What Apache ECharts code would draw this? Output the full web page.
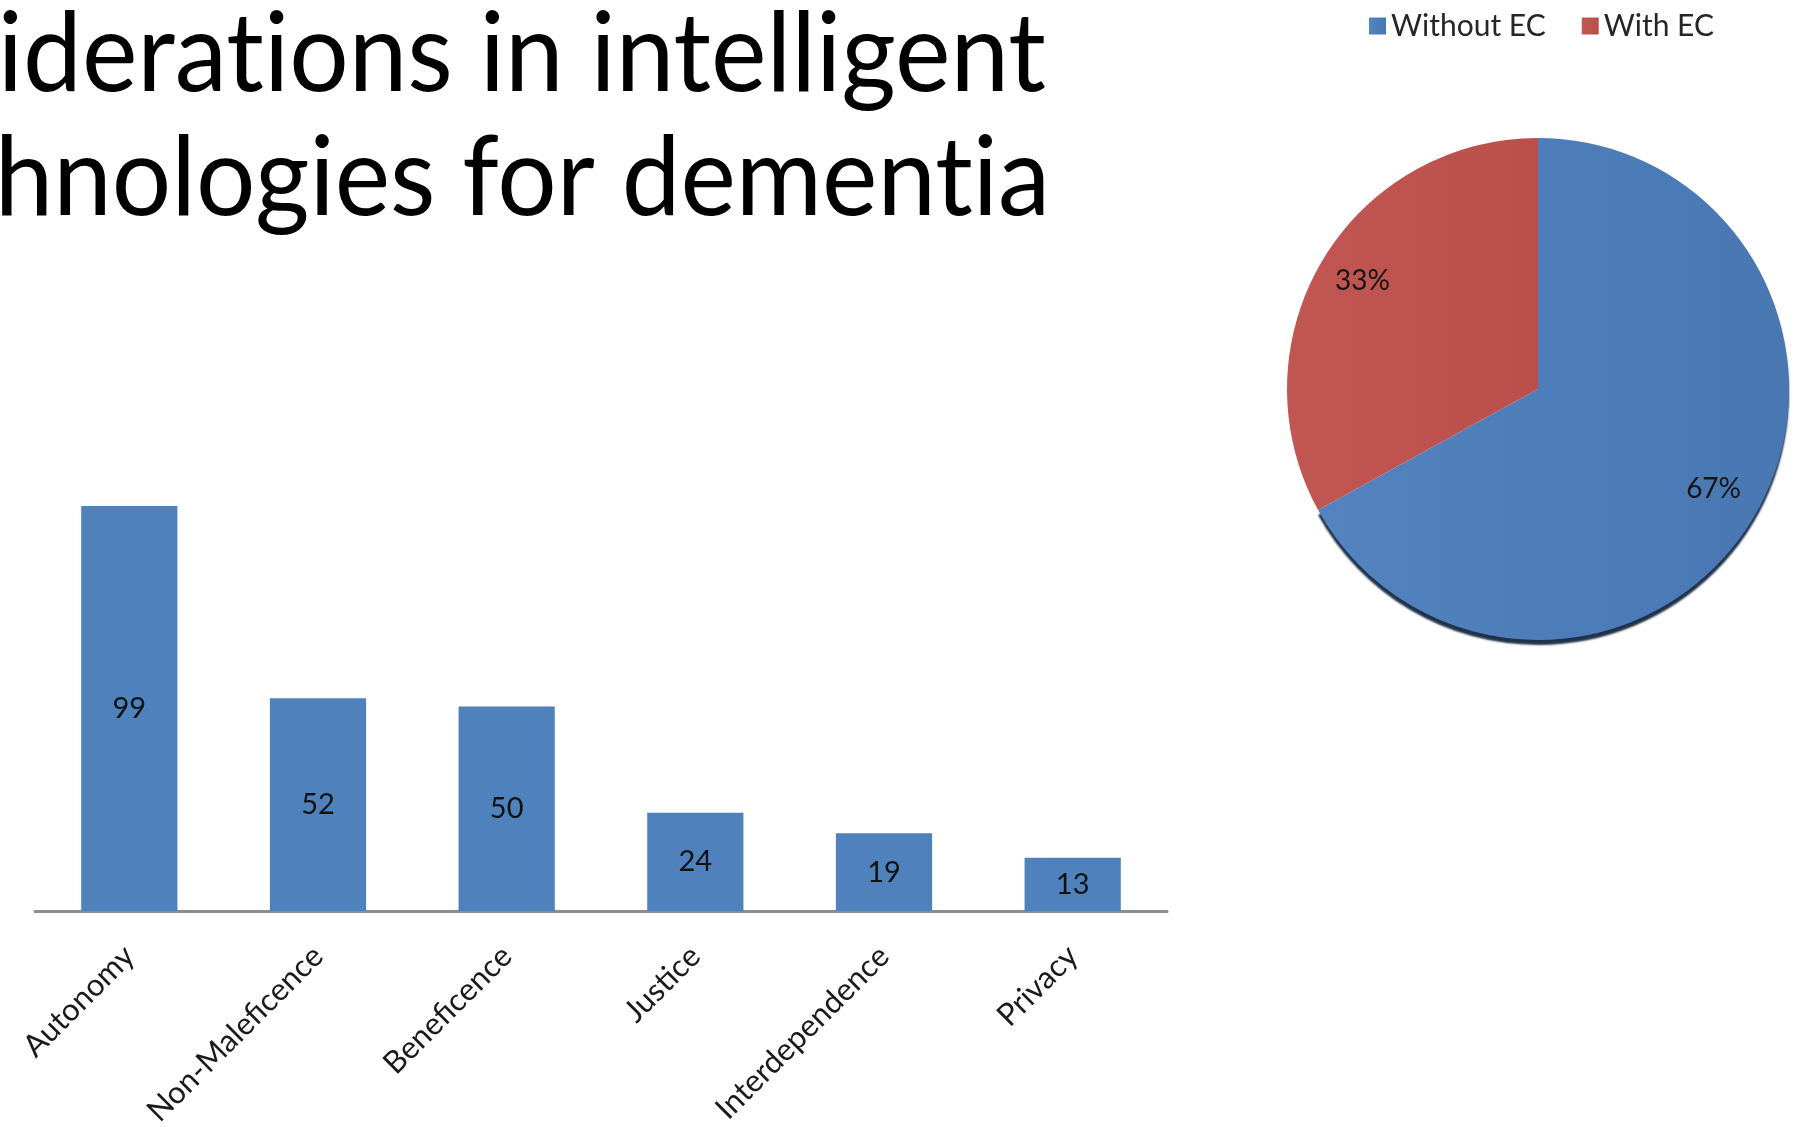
<!DOCTYPE html>
<html>
<head>
<meta charset="utf-8">
<script src="https://cdn.jsdelivr.net/npm/echarts@6/dist/echarts.min.js"></script>
<style>
  html, body { margin: 0; padding: 0; background: #ffffff; }
  #chart { width: 1811px; height: 1127px; }
</style>
</head>
<body>
<div id="chart"></div>
<script>
// Heading lines (right-aligned, running off the left edge of the slide)
const titleLines = ['considerations in intelligent', 'technologies for dementia'];

// Bar chart: number of papers addressing each principle
const categories = ['Autonomy', 'Non-Maleficence', 'Beneficence', 'Justice', 'Interdependence', 'Privacy'];
const counts = [99, 52, 50, 24, 19, 13];

// Pie chart: share of papers without / with ethical considerations
const pieNames = ['Without EC', 'With EC'];
const pieShares = [67, 33];

const BLUE = '#4F81BD';
const FONT = 'Lato, "Open Sans", sans-serif';

const chart = echarts.init(document.getElementById('chart'), null, { renderer: 'canvas' });

// Lato joins "t"+"i" into a ligature; drawing the pieces as separate
// rich-text runs keeps the two letters apart.
function richLine(line) {
  return line.split(/(?<=t)(?=i)/).map(part => '{h|' + part + '}').join('');
}

const titleRich = {
  h: { fontFamily: FONT, fontSize: 110, color: '#000000', lineHeight: 120 }
};

const pieData = pieNames.map((name, i) => ({
  name: name,
  value: pieShares[i],
  itemStyle: i === 0
    ? {
        color: new echarts.graphic.LinearGradient(0, 0, 1, 0, [
          { offset: 0, color: '#5384C0' },
          { offset: 1, color: '#4877B2' }
        ]),
        shadowColor: 'rgba(20, 38, 64, 0.95)',
        shadowBlur: 2,
        shadowOffsetY: 5
      }
    : {
        color: new echarts.graphic.LinearGradient(0, 0, 1, 0, [
          { offset: 0, color: '#C25652' },
          { offset: 1, color: '#BA4F4C' }
        ])
      }
}));

chart.setOption({
  backgroundColor: '#ffffff',
  animation: false,
  graphic: [
    {
      type: 'text',
      x: 1046,
      y: 56,
      scaleX: 0.955,
      style: {
        text: richLine(titleLines[0]),
        rich: titleRich,
        textAlign: 'right',
        textVerticalAlign: 'middle'
      }
    },
    {
      type: 'text',
      x: 1050,
      y: 180,
      scaleX: 0.953,
      style: {
        text: richLine(titleLines[1]),
        rich: titleRich,
        textAlign: 'right',
        textVerticalAlign: 'middle'
      }
    }
  ],
  legend: {
    data: pieNames,
    left: 1364,
    top: 6,
    icon: 'rect',
    itemWidth: 17,
    itemHeight: 17,
    itemGap: 36,
    selectedMode: false,
    textStyle: { fontFamily: FONT, fontSize: 30, color: '#262626' }
  },
  grid: {
    left: 35,
    right: 644,
    top: 502,
    bottom: 216,
    containLabel: false,
    outerBoundsMode: 'none'
  },
  xAxis: {
    type: 'category',
    data: categories,
    axisTick: { show: false },
    axisLine: { lineStyle: { color: '#8c8c8c', width: 3 } },
    axisLabel: {
      rotate: 45,
      interval: 0,
      margin: 40,
      fontFamily: FONT,
      fontSize: 31,
      color: '#1a1a1a'
    }
  },
  yAxis: {
    type: 'value',
    min: 0,
    max: 100,
    show: false,
    splitLine: { show: false }
  },
  series: [
    {
      type: 'bar',
      data: counts,
      barWidth: '51%',
      itemStyle: { color: BLUE },
      label: {
        show: true,
        position: 'inside',
        fontFamily: FONT,
        fontSize: 29,
        color: '#111111'
      }
    },
    {
      type: 'pie',
      center: [1538, 389],
      radius: [0, 251],
      startAngle: 90,
      clockwise: true,
      silent: true,
      data: pieData,
      label: { show: false },
      labelLine: { show: false }
    },
    {
      // transparent ring that only carries the percentage labels
      type: 'pie',
      center: [1538, 385],
      radius: [151, 251],
      startAngle: 90,
      clockwise: true,
      silent: true,
      data: pieNames.map((name, i) => ({ name: name, value: pieShares[i] })),
      itemStyle: { color: 'rgba(0,0,0,0)' },
      label: {
        show: true,
        position: 'inside',
        formatter: p => p.value + '%',
        fontFamily: FONT,
        fontSize: 28,
        color: '#151515'
      },
      labelLine: { show: false }
    }
  ]
});
</script>
</body>
</html>
